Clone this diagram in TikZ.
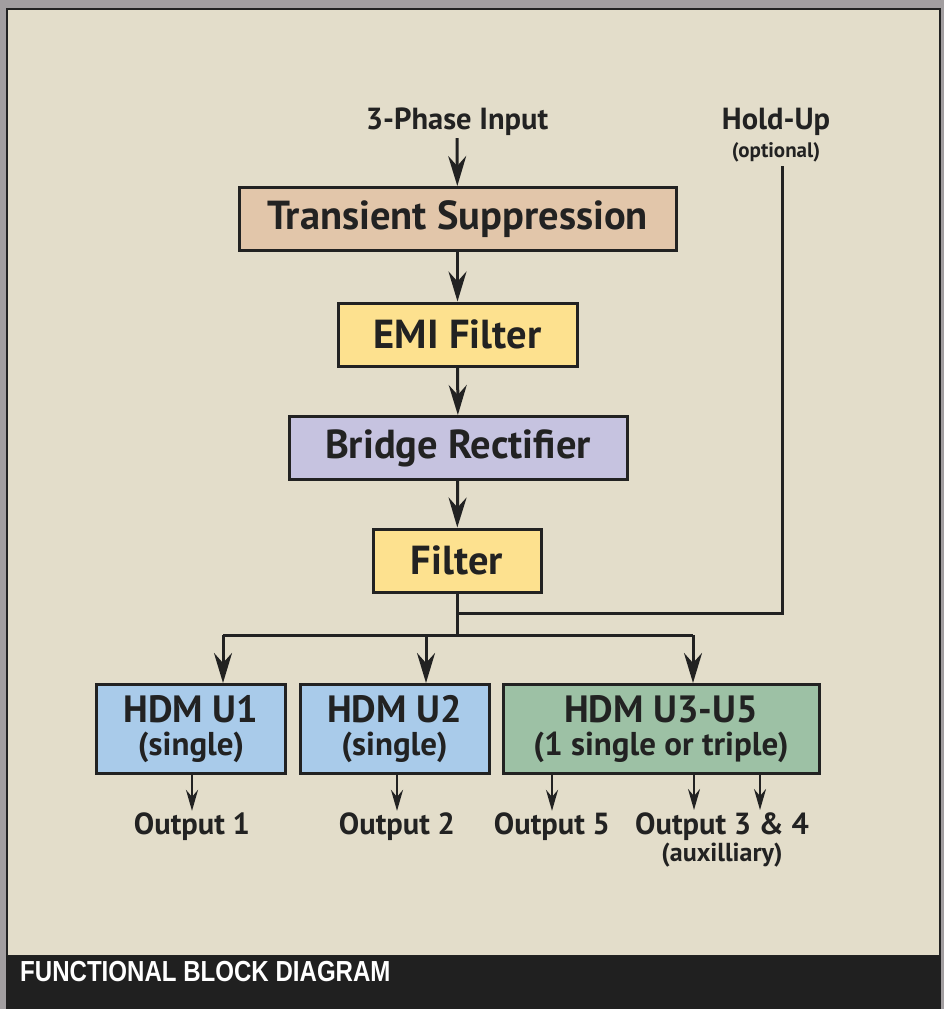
\documentclass[tikz,border=0pt]{standalone}
\usepackage{fontspec}
\setmainfont{PT Sans}
\newfontfamily\barfont[FakeStretch=0.83]{Liberation Sans}
\usetikzlibrary{arrows.meta}

\definecolor{ink}{HTML}{222222}
\definecolor{photo}{HTML}{A29EA0}
\definecolor{panel}{HTML}{E3DDCA}
\definecolor{bar}{HTML}{202020}
\definecolor{tan}{HTML}{E2C6AA}
\definecolor{yel}{HTML}{FDE18F}
\definecolor{lav}{HTML}{C6C3E0}
\definecolor{hblue}{HTML}{A9CBEA}
\definecolor{hgreen}{HTML}{9DC1A5}

\begin{document}
\begin{tikzpicture}[x=1pt,y=-1pt]
\tikzstyle{block}=[draw=ink, line width=3pt, inner sep=0pt, text=ink, font=\bfseries\fontsize{40.5}{42}\selectfont, minimum height=63pt]
\tikzstyle{hdm}=[block, minimum width=189pt, minimum height=89pt, fill=hblue, align=center, font=\bfseries\fontsize{38}{33}\selectfont]
\tikzstyle{tag}=[text=ink, inner sep=2pt, font=\bfseries\fontsize{30.5}{32}\selectfont]
\tikzstyle{wire}=[ink, line width=3pt]
\tikzstyle{arr}=[wire, -{Stealth[length=30pt,width=18pt,inset=10pt]}]
\tikzstyle{sarr}=[ink, line width=2.5pt, -{Stealth[length=21pt,width=12pt,inset=7pt]}]
\newcommand{\sub}[1]{{\fontsize{33}{33}\selectfont #1}}

% frame and caption bar
\useasboundingbox (0,0) rectangle (944,1009);
\fill[photo] (0,0) rectangle (944,1009);
\fill[panel, draw=ink, line width=2.5pt] (7,9) rectangle (940,956);
\fill[bar] (6,956) rectangle (941,1009);
\draw (20,972) node[anchor=west, text=white, inner sep=0pt, font=\barfont\bfseries\fontsize{29}{30}\selectfont] (title) {FUNCTIONAL BLOCK DIAGRAM};

% chain
\draw (457,122) node[tag] (input) {3-Phase Input};
\draw (776,122) node[tag] (hold) {Hold-Up};
\draw (776,152) node[text=ink, inner sep=1pt, font=\bfseries\fontsize{21}{22}\selectfont] (opt) {(optional)};
\draw (457.5,219) node[block, fill=tan, minimum width=437pt] (ts) {Transient Suppression};
\draw (457.5,334.5) node[block, fill=yel, minimum width=239pt] (emi) {EMI Filter};
\draw (458,448) node[block, fill=lav, minimum width=338pt] (bridge) {Bridge Rectifier};
\draw (457,560.5) node[block, fill=yel, minimum width=168pt] (filter) {Filter};

\draw[arr] (input) -- (ts);
\draw[arr] (ts) -- (emi);
\draw[arr] (emi) -- (bridge);
\draw[arr] (bridge) -- (filter);

% modules
\draw (191,729) node[hdm] (u1) {HDM U1\\\sub{(single)}};
\draw (394.5,729) node[hdm] (u2) {HDM U2\\\sub{(single)}};
\draw (661,729) node[hdm, fill=hgreen, minimum width=316pt] (u3) {HDM U3-U5\\\sub{(1 single or triple)}};

\coordinate (hu) at (782,166);
\coordinate (join) at (457,613);
\coordinate (bus) at (457,635);
\coordinate (bus1) at (223,635);
\coordinate (bus2) at (426,635);
\coordinate (bus3) at (693,635);

\draw[wire] (hu) |- (join);
\draw[wire] (filter) -- (bus);
\draw[wire] (bus1) -- (bus3);
\draw[arr] (bus1) -- (bus1 |- u1.north);
\draw[arr] (bus2) -- (bus2 |- u2.north);
\draw[arr] (bus3) -- (bus3 |- u3.north);

% outputs
\draw (192,827) node[tag] (o1) {Output 1};
\draw (397,827) node[tag] (o2) {Output 2};
\draw (552,827) node[tag] (o5) {Output 5};
\draw (722,827) node[tag] (o34) {Output 3 \& 4};
\draw (722,855) node[text=ink, inner sep=1pt, font=\bfseries\fontsize{26}{28}\selectfont] (aux) {(auxilliary)};
\coordinate (o3) at (694,810);
\coordinate (o4) at (760,810);

\draw[sarr] (u1.south -| o1) -- (o1);
\draw[sarr] (u2.south -| o2) -- (o2);
\draw[sarr] (u3.south -| o5) -- (o5);
\draw[sarr] (u3.south -| o3) -- (o3);
\draw[sarr] (u3.south -| o4) -- (o4);
\end{tikzpicture}
\end{document}
